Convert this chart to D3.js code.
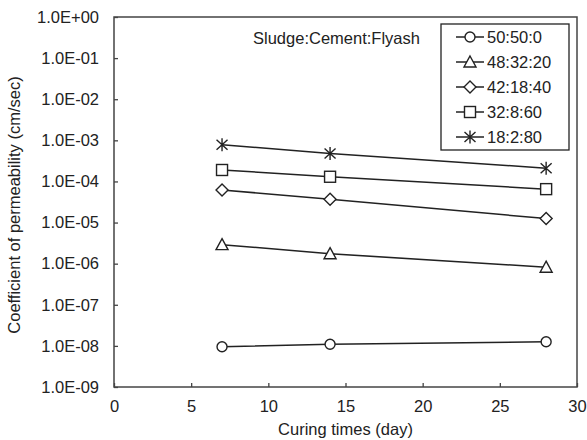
<!DOCTYPE html>
<html>
<head>
<meta charset="utf-8">
<script src="https://cdn.jsdelivr.net/npm/d3@7"></script>
<style>
  body { margin: 0; background: #fff; }
  text { font-family: "Liberation Sans", Arial, sans-serif; fill: #222; }
</style>
</head>
<body>
<svg id="chart" width="587" height="440"></svg>
<script>
// data
const days = [7, 14, 28];
const mixes = ["50:50:0", "48:32:20", "42:18:40", "32:8:60", "18:2:80"];
const symbols = ["circle", "triangle", "diamond", "square", "star"];
const k50_50_0 = [9.5e-9, 1.1e-8, 1.26e-8];
const k48_32_20 = [2.9e-6, 1.75e-6, 8.2e-7];
const k42_18_40 = [6.2e-5, 3.7e-5, 1.25e-5];
const k32_8_60 = [1.9e-4, 1.3e-4, 6.5e-5];
const k18_2_80 = [7.8e-4, 4.8e-4, 2.1e-4];
const series = [k50_50_0, k48_32_20, k42_18_40, k32_8_60, k18_2_80];
const xTicks = [0, 5, 10, 15, 20, 25, 30];
const yTicks = [1e-9, 1e-8, 1e-7, 1e-6, 1e-5, 1e-4, 1e-3, 1e-2, 1e-1, 1];

const w = 587, h = 440;
const pLeft = 114, pRight = 577, pTop = 17, pBottom = 387;
const fs = "16.5px";

const svg = d3.select("#chart");

const xScale = d3.scaleLinear().domain([0, 30]).range([pLeft, pRight]);
const yScale = d3.scaleLog().domain([1e-9, 1]).range([pBottom, pTop]);

// frame
svg.append("rect")
  .attr("x", pLeft).attr("y", pTop)
  .attr("width", pRight - pLeft).attr("height", pBottom - pTop)
  .attr("fill", "none").attr("stroke", "#444").attr("stroke-width", 1.5);

// axes with inward ticks
function expLabel(d) {
  const e = Math.round(Math.log10(d));
  const s = e < 0 ? "-" : "+";
  return "1.0E" + s + String(Math.abs(e)).padStart(2, "0");
}

const xAxis = svg.append("g")
  .attr("transform", "translate(0," + pBottom + ")")
  .call(d3.axisBottom(xScale).tickValues(xTicks).tickSizeInner(-4).tickSizeOuter(0).tickPadding(13));
const yAxis = svg.append("g")
  .attr("transform", "translate(" + pLeft + ",0)")
  .call(d3.axisLeft(yScale).tickValues(yTicks).tickFormat(expLabel).tickSizeInner(-4).tickSizeOuter(0).tickPadding(15));

[xAxis, yAxis].forEach(function (a) {
  a.select(".domain").remove();
  a.selectAll(".tick line").attr("stroke", "#444").attr("stroke-width", 1.3);
  a.selectAll(".tick text").style("font-family", "Liberation Sans, Arial, sans-serif")
    .style("font-size", fs).attr("fill", "#222");
});

// axis titles
svg.append("text")
  .attr("x", (pLeft + pRight) / 2).attr("y", 435)
  .attr("text-anchor", "middle").style("font-size", fs)
  .text("Curing times (day)");
svg.append("text")
  .attr("transform", "translate(20," + ((pTop + pBottom) / 2 + 3) + ") rotate(-90)")
  .attr("text-anchor", "middle").style("font-size", fs)
  .text("Coefficient of permeability (cm/sec)");

// caption
svg.append("text")
  .attr("x", 253).attr("y", 44)
  .style("font-size", fs)
  .text("Sludge:Cement:Flyash");

// marker drawing
function drawMarker(g, type) {
  const st = { fill: "#fff", stroke: "#222", "stroke-width": 1.4 };
  let m;
  if (type === "circle") {
    m = g.append("circle").attr("r", 5);
  } else if (type === "triangle") {
    m = g.append("path").attr("d", "M0,-6L6,5L-6,5Z");
  } else if (type === "diamond") {
    m = g.append("path").attr("d", "M0,-6L6,0L0,6L-6,0Z");
  } else if (type === "square") {
    m = g.append("rect").attr("x", -5.5).attr("y", -5.5).attr("width", 11).attr("height", 11);
  } else {
    m = g.append("path").attr("d", "M0,-6.5V6.5M-5.5,-5L5.5,5M-5.5,5L5.5,-5");
    st.fill = "none";
  }
  Object.keys(st).forEach(function (k) { m.attr(k, st[k]); });
}

const line = d3.line()
  .x(function (d, i) { return xScale(days[i]); })
  .y(function (d) { return yScale(d); });

series.forEach(function (vals, si) {
  svg.append("path").datum(vals)
    .attr("d", line)
    .attr("fill", "none").attr("stroke", "#222").attr("stroke-width", 1.5);
  vals.forEach(function (v, i) {
    const g = svg.append("g")
      .attr("transform", "translate(" + xScale(days[i]) + "," + yScale(v) + ")");
    drawMarker(g, symbols[si]);
  });
});

// legend
const lg = svg.append("g");
lg.append("rect")
  .attr("x", 441).attr("y", 24).attr("width", 128).attr("height", 126)
  .attr("fill", "#fff").attr("stroke", "#222").attr("stroke-width", 1.3);
mixes.forEach(function (name, i) {
  const y = 37 + i * 25;
  lg.append("line").attr("x1", 456).attr("x2", 484).attr("y1", y).attr("y2", y)
    .attr("stroke", "#222").attr("stroke-width", 1.5);
  drawMarker(lg.append("g").attr("transform", "translate(470," + y + ")"), symbols[i]);
  lg.append("text").attr("x", 487).attr("y", y + 6)
    .style("font-size", fs).text(name);
});
</script>
</body>
</html>
